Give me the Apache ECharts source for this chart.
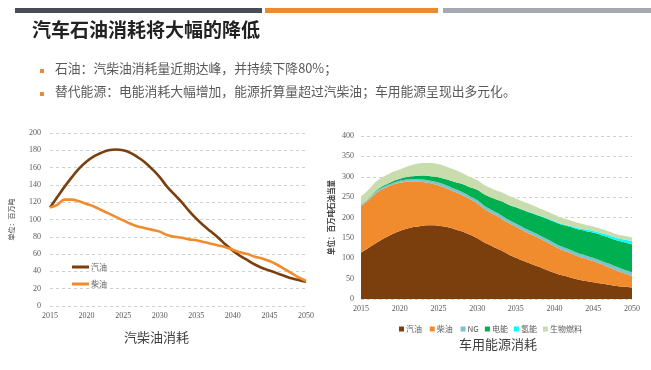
<!DOCTYPE html>
<html><head><meta charset="utf-8">
<script src="https://cdn.jsdelivr.net/npm/echarts@6/dist/echarts.min.js"></script>
<style>html,body{margin:0;padding:0;background:#fff}#c{width:651px;height:370px}</style>
</head><body><div id="c"></div>
<script>
const years = [2015,2016,2017,2018,2019,2020,2021,2022,2023,2024,2025,2026,2027,2028,2029,2030,2031,2032,2033,2034,2035,2036,2037,2038,2039,2040,2041,2042,2043,2044,2045,2046,2047,2048,2049,2050];
const gasoline = [114,126,138,149,159,167,173,177,180,181,180,177,172,166,158,149,138,129,120,110,101,93,86,79,71,64,58,53,48,44,41,38,35,32,30,28];
const diesel = [114,117,123,123,121,118,115,111,107,103,99,95,92,90,88,86,82,80,79,77,76,74,72,70,68,65,62,60,57,55,52,48,43,38,33,29];
const ng = [3,3,4,4,4,5,5,6,6,6,7,7,7,7,7,8,8,8,8,8,8,8,8,8,8,8,8,8,8,8,8,8,9,9,9,9];
const electric = [0,1,2,3,4,5,7,8,10,11,13,15,17,20,22,25,28,31,34,37,40,43,45,47,50,52,54,56,58,60,62,63,64,65,67,68];
const hydrogen = [0,0,0,0,0,0,0,0,0,0,0,0,0,0,0,0,0,0,0,0,0.5,0.5,1,1,1.5,2,2,2.5,3,3.5,4,5,5.5,6,7,8];
const biofuel = [21,22,22,22,23,23,25,29,31,33,32,31,30,27,25,24,23,22,22,22,21,20,19,18,17,16,15,14,13,12,11,10,10,9,9,9];
const leftTitle = '汽柴油消耗';
const rightTitle = '车用能源消耗';
const mainTitle = '汽车石油消耗将大幅的降低';
const bullets = ['石油：汽柴油消耗量近期达峰，并持续下降80%；','替代能源：电能消耗大幅增加，能源折算量超过汽柴油；车用能源呈现出多元化。'];
const leftUnit = '单位：百万吨';
const rightUnit = '单位：百万吨石油当量';

const pair = arr => years.map((y,i)=>[y,arr[i]]);
const CJK = '"Noto Sans CJK SC", "Noto Sans", sans-serif';
const SERIF = '"Liberation Serif", "DejaVu Serif", serif';
const C = {gas:'#7B3F0E', dsl:'#F08C2E', ng:'#7EC3CC', el:'#00B050', h2:'#00FFFF', bio:'#C8DCAE'};

const chart = echarts.init(document.getElementById('c'), null, {renderer:'canvas'});
const axisLabel = {fontFamily: SERIF, fontSize: 8, color:'#595959'};
const split = {show:true, lineStyle:{type:[3,3], color:'#d0d0d0', width:1}};

const areaSeries = (name, arr, color) => ({
  name, type:'line', xAxisIndex:1, yAxisIndex:1, stack:'total', smooth:0.3, symbol:'none',
  data: arr, lineStyle:{width:0}, itemStyle:{color}, areaStyle:{color, opacity:1}
});

chart.setOption({
  animation:false,
  backgroundColor:'#fff',
  grid:[
    {left:50, right:345, top:133, bottom:64},
    {left:361, right:19, top:136, bottom:71}
  ],
  xAxis:[
    {type:'value', gridIndex:0, min:2015, max:2050, interval:5, axisLine:{show:false}, axisTick:{show:false}, splitLine:{show:false},
     axisLabel:Object.assign({}, axisLabel, {margin:6, formatter: v => String(v)})},
    {type:'category', gridIndex:1, data:years, boundaryGap:false, axisLine:{show:false}, axisTick:{show:false}, splitLine:{show:false},
     axisLabel:Object.assign({}, axisLabel, {margin:6, interval:4})}
  ],
  yAxis:[
    {type:'value', gridIndex:0, min:0, max:200, interval:20, axisLine:{show:false}, axisTick:{show:false},
     axisLabel:Object.assign({}, axisLabel, {margin:9}), splitLine:split,
     name:leftUnit, nameLocation:'middle', nameRotate:90, nameGap:35,
     nameTextStyle:{fontFamily:CJK, fontSize:7, color:'#404040'}},
    {type:'value', gridIndex:1, min:0, max:400, interval:50, axisLine:{show:false}, axisTick:{show:false},
     axisLabel:Object.assign({}, axisLabel, {margin:7}), splitLine:split,
     name:rightUnit, nameLocation:'middle', nameRotate:90, nameGap:26,
     nameTextStyle:{fontFamily:CJK, fontSize:7.5, color:'#404040', fontWeight:'bold'}}
  ],
  legend:[
    {data:['汽油','柴油'], orient:'vertical', left:67, top:258, itemWidth:17, itemHeight:3, itemGap:9,
     icon:'rect', textStyle:{fontFamily:CJK, fontSize:8, color:'#595959', padding:[0,0,0,-3]}},
    {data:['汽油 ','柴油 ','NG','电能','氢能','生物燃料'], orient:'horizontal', left:394, top:320, itemWidth:5, itemHeight:5, itemGap:6,
     icon:'rect', textStyle:{fontFamily:CJK, fontSize:8, color:'#595959', padding:[0,0,0,-3]}}
  ],
  series:[
    {name:'汽油', type:'line', xAxisIndex:0, yAxisIndex:0, smooth:0.4, symbol:'none', data:pair(gasoline),
     lineStyle:{width:2.6, color:C.gas}, itemStyle:{color:C.gas}},
    {name:'柴油', type:'line', xAxisIndex:0, yAxisIndex:0, smooth:0.4, symbol:'none', data:pair(diesel),
     lineStyle:{width:2.6, color:C.dsl}, itemStyle:{color:C.dsl}},
    areaSeries('汽油 ', gasoline, C.gas),
    areaSeries('柴油 ', diesel, C.dsl),
    areaSeries('NG', ng, C.ng),
    areaSeries('电能', electric, C.el),
    areaSeries('氢能', hydrogen, C.h2),
    areaSeries('生物燃料', biofuel, C.bio)
  ],
  graphic:[
    {type:'rect', shape:{x:15, y:8, width:247, height:5}, style:{fill:'#474D52'}},
    {type:'rect', shape:{x:265, y:8, width:173, height:5}, style:{fill:'#EE8A2E'}},
    {type:'rect', shape:{x:443, y:8, width:208, height:5}, style:{fill:'#A3A9AE'}},
    {type:'text', left:32, top:20, style:{text:mainTitle, font:'bold 19px ' + CJK, fill:'#222'}},
    {type:'rect', shape:{x:40, y:69, width:4, height:4}, style:{fill:'#EE8A2E'}},
    {type:'rect', shape:{x:40, y:92, width:4, height:4}, style:{fill:'#EE8A2E'}},
    {type:'text', left:55, top:62, style:{text:bullets[0], font:'12.8px ' + CJK, fill:'#595959'}},
    {type:'text', left:55, top:85, style:{text:bullets[1], font:'12.8px ' + CJK, fill:'#595959'}},
    {type:'text', left:124, top:331, style:{text:leftTitle, font:'13px ' + CJK, fill:'#404040'}},
    {type:'text', left:459, top:338, style:{text:rightTitle, font:'13px ' + CJK, fill:'#404040'}}
  ]
});
</script></body></html>
